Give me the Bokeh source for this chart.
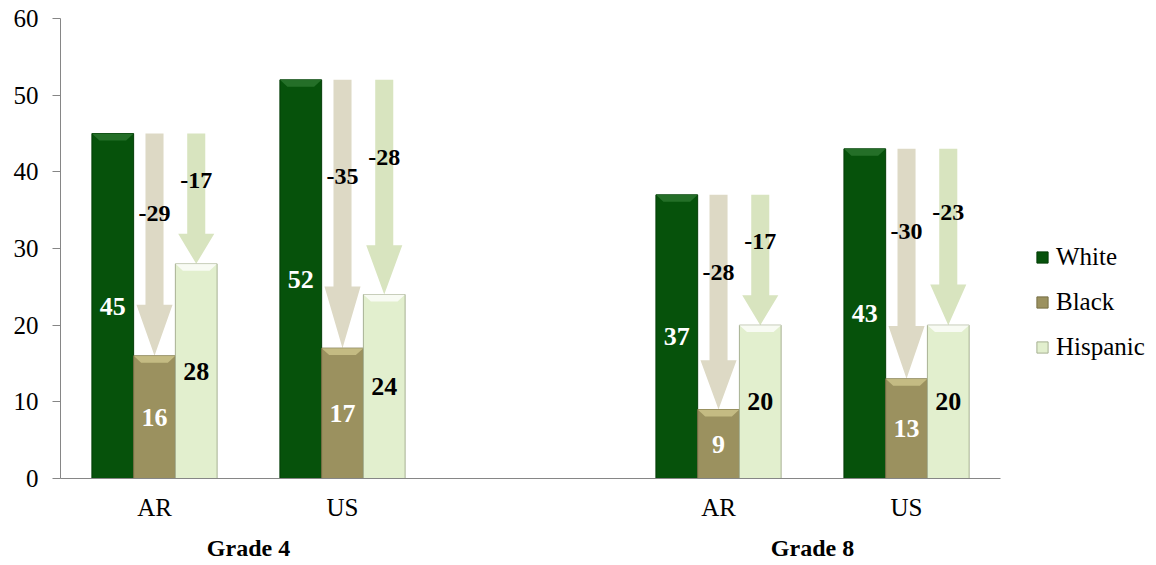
from bokeh.plotting import figure
from bokeh.models import Range1d, FixedTicker, LinearAxis, Legend, LegendItem, ColumnDataSource
from bokeh.core.properties import value
from bokeh.embed import file_html
from bokeh.resources import INLINE

# ---- data ----
categories = ["AR", "US", "", "AR", "US"]   # "" = gap between the two grades
grades = ["Grade 4", "Grade 8"]
series = ["White", "Black", "Hispanic"]
white = [45, 52, 37, 43]
black = [16, 17, 9, 13]
hispanic = [28, 24, 20, 20]
y_ticks = [0, 10, 20, 30, 40, 50, 60]

# ---- styling ----
FONT = "'Liberation Serif', 'Times New Roman', serif"
AXIS_GREY = "#868686"
fills = {"White": "#06520b", "Black": "#9b915f", "Hispanic": "#e2efce"}
edges = {"White": "#043d07", "Black": "#776f45", "Hispanic": "#a7b193"}
bevels = {"White": "#2f7a33", "Black": "#d2c98f", "Hispanic": "#ffffff"}
arrow_cols = {"Black": "#ddd9c5", "Hispanic": "#d8e4bf"}

BAR_W = 0.222
offsets = {"White": -BAR_W, "Black": 0.0, "Hispanic": BAR_W}

slot_x = [i + 0.5 for i, c in enumerate(categories) if c]
slot_lab = [c for c in categories if c]
grade_x = [(slot_x[0] + slot_x[1]) / 2, (slot_x[2] + slot_x[3]) / 2]

p = figure(frame_width=1088, frame_height=460,
           x_range=Range1d(0, 5.787), y_range=Range1d(0, 60),
           output_backend="svg", toolbar_location=None,
           min_border_left=60, min_border_right=0, min_border_top=18, min_border_bottom=0)
p.outline_line_color = None
p.xgrid.visible = False
p.ygrid.visible = False
p.background_fill_color = "white"
p.border_fill_color = "white"

# ---- arrows (drawn first, beneath bars) ----
vals = {"White": white, "Black": black, "Hispanic": hispanic}
SW, HW, HEAD = 0.048, 0.096, 0.23
diff_x, diff_y, diff_t = [], [], []
for s in ["Black", "Hispanic"]:
    xs_all, ys_all = [], []
    for i, xc0 in enumerate(slot_x):
        xc = xc0 + offsets[s]
        top, bot = white[i], vals[s][i]
        d = top - bot
        hs = bot + HEAD * d
        xs_all.append([xc - SW, xc + SW, xc + SW, xc + HW, xc, xc - HW, xc - SW])
        ys_all.append([top, top, hs, hs, bot, hs, hs])
        diff_x.append(xc)
        diff_y.append(top - 0.36 * d)
        diff_t.append(f"-{d}")
    p.patches(xs_all, ys_all, fill_color=arrow_cols[s], line_color=None)

# ---- bars ----
renderers = {}
for s in series:
    xs = [x + offsets[s] for x in slot_x]
    src = ColumnDataSource(dict(x=xs, top=vals[s]))
    r = p.vbar(x="x", top="top", width=BAR_W, bottom=0, source=src,
               fill_color=fills[s], line_color=edges[s], line_width=1)
    renderers[s] = r
    # top bevel highlight
    bx, by = [], []
    for x, t in zip(xs, vals[s]):
        l, rr = x - BAR_W / 2, x + BAR_W / 2
        inset = 0.04
        bx.append([l, rr, rr - inset, l + inset])
        by.append([t, t, t - 0.9, t - 0.9])
    p.patches(bx, by, fill_color=bevels[s], fill_alpha=0.75, line_color=None)

# ---- value labels ----
lab_cols = {"White": "white", "Black": "white", "Hispanic": "black"}
for s in series:
    xs = [x + offsets[s] for x in slot_x]
    p.text(x=xs, y=[v / 2 for v in vals[s]], text=[str(v) for v in vals[s]],
           text_align="center", text_baseline="middle",
           text_font=value(FONT), text_font_style="bold", text_font_size="26px",
           text_color=lab_cols[s])

p.text(x=diff_x, y=diff_y, text=diff_t, text_align="center", text_baseline="middle",
       text_font=value(FONT), text_font_style="bold", text_font_size="24px",
       text_color="black")

# ---- axes ----
ya = p.yaxis[0]
ya.ticker = FixedTicker(ticks=y_ticks)
ya.axis_line_color = AXIS_GREY
ya.major_tick_line_color = AXIS_GREY
ya.major_tick_out = 8
ya.major_tick_in = 0
ya.minor_tick_line_color = None
ya.major_label_text_font = FONT
ya.major_label_text_font_size = "25px"
ya.major_label_text_color = "black"
ya.major_label_standoff = 14

xa = p.xaxis[0]
xa.ticker = FixedTicker(ticks=slot_x)
xa.major_label_overrides = {x: l for x, l in zip(slot_x, slot_lab)}
xa.bounds = (0, 5)
xa.axis_line_color = AXIS_GREY
xa.major_tick_line_color = None
xa.minor_tick_line_color = None
xa.major_tick_out = 0
xa.major_tick_in = 0
xa.major_label_text_font = FONT
xa.major_label_text_font_size = "25px"
xa.major_label_text_color = "black"
xa.major_label_standoff = 15

ga = LinearAxis(ticker=FixedTicker(ticks=grade_x),
                major_label_overrides={x: g for x, g in zip(grade_x, grades)})
ga.axis_line_color = None
ga.major_tick_line_color = None
ga.minor_tick_line_color = None
ga.major_tick_out = 0
ga.major_tick_in = 0
ga.major_label_text_font = FONT
ga.major_label_text_font_style = "bold"
ga.major_label_text_font_size = "24px"
ga.major_label_text_color = "black"
ga.major_label_standoff = 11
p.add_layout(ga, "below")

# ---- legend ----
legend = Legend(items=[LegendItem(label=s, renderers=[renderers[s]]) for s in series],
                location=(975, 117), orientation="vertical")
legend.border_line_color = None
legend.background_fill_alpha = 0
legend.padding = 0
legend.margin = 0
legend.glyph_width = 14
legend.glyph_height = 14
legend.label_standoff = 7
legend.label_height = 24
legend.spacing = 17
legend.label_text_font = FONT
legend.label_text_font_size = "25px"
legend.label_text_color = "black"
p.add_layout(legend, "center")

open("out.html", "w").write(file_html(p, INLINE))
